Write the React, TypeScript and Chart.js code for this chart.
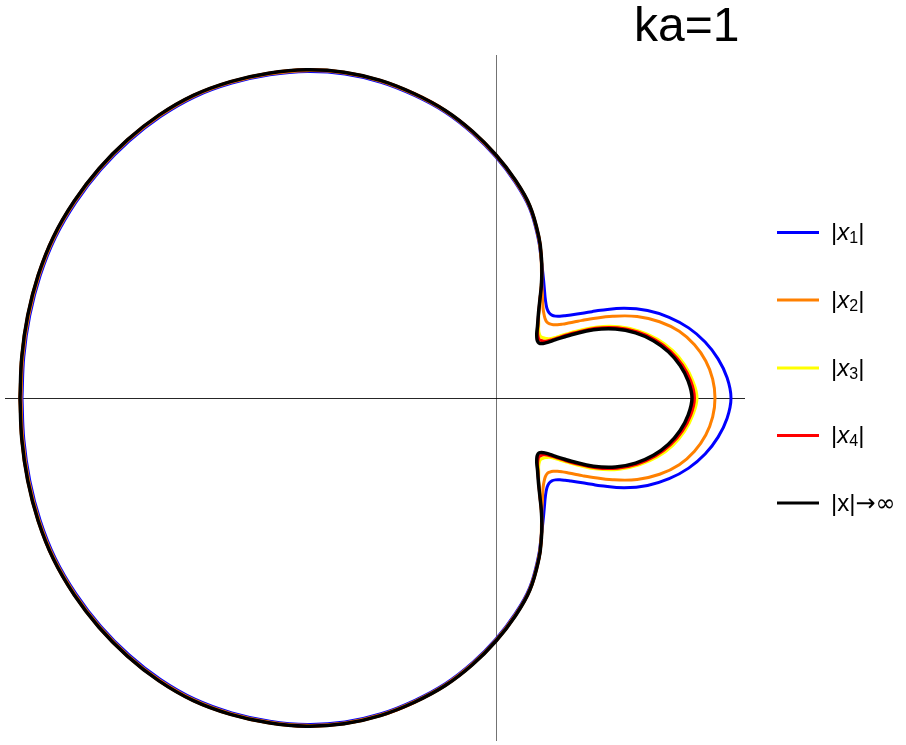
import React, { useEffect, useRef } from "react";
import { Chart, registerables } from "chart.js";

Chart.register(...registerables);

// Polar radiation patterns |x(θ)|, sampled on the upper half-plane
// (θ in degrees, 0 = +x axis). Each pattern is symmetric about the x axis.
const angles = [
  0, 5, 10, 15, 20, 25, 30, 35, 40, 42, 44, 46, 48, 50, 52, 54, 56, 58, 60, 62,
  64, 66, 68, 70, 72, 75, 80, 85, 90, 95, 100, 105, 110, 115, 120, 125, 130,
  135, 140, 145, 150, 155, 160, 165, 170, 175, 180,
];

const rX1 = [
  2.35, 2.32, 2.255, 2.165, 2.05, 1.91, 1.75, 1.565, 1.365, 1.29, 1.225,
  1.168, 1.118, 1.074, 1.038, 1.012, 0.999, 1.003, 1.025, 1.065, 1.12, 1.19,
  1.27, 1.36, 1.46, 1.64, 1.93, 2.17, 2.41, 2.655, 2.9, 3.13, 3.36, 3.575,
  3.77, 3.945, 4.11, 4.26, 4.38, 4.48, 4.565, 4.635, 4.69, 4.72, 4.735, 4.74,
  4.74,
];

const rX2 = [
  2.19, 2.175, 2.13, 2.055, 1.95, 1.805, 1.63, 1.425, 1.228, 1.16, 1.097,
  1.042, 0.994, 0.956, 0.93, 0.916, 0.913, 0.93, 0.962, 1.005, 1.065, 1.14,
  1.225, 1.33, 1.46, 1.65, 1.94, 2.18, 2.42, 2.665, 2.91, 3.14, 3.37, 3.585,
  3.78, 3.955, 4.12, 4.27, 4.39, 4.49, 4.575, 4.645, 4.7, 4.73, 4.745, 4.75,
  4.75,
];

const rX3 = [
  2.01, 1.975, 1.915, 1.83, 1.72, 1.582, 1.425, 1.24, 1.035, 0.962, 0.897,
  0.838, 0.797, 0.778, 0.765, 0.76, 0.775, 0.805, 0.855, 0.91, 0.985, 1.085,
  1.21, 1.34, 1.47, 1.66, 1.95, 2.19, 2.43, 2.675, 2.92, 3.15, 3.38, 3.595,
  3.79, 3.965, 4.13, 4.28, 4.4, 4.5, 4.585, 4.655, 4.71, 4.74, 4.755, 4.76,
  4.76,
];

const rX4 = [
  1.985, 1.955, 1.893, 1.807, 1.697, 1.562, 1.403, 1.215, 1.01, 0.937, 0.87,
  0.812, 0.768, 0.742, 0.73, 0.73, 0.75, 0.785, 0.84, 0.9, 0.98, 1.08, 1.21,
  1.34, 1.47, 1.66, 1.95, 2.19, 2.43, 2.675, 2.92, 3.15, 3.38, 3.595, 3.79,
  3.965, 4.13, 4.28, 4.4, 4.5, 4.585, 4.655, 4.71, 4.74, 4.755, 4.76, 4.76,
];

const rFar = [
  1.96, 1.93, 1.87, 1.785, 1.675, 1.54, 1.38, 1.19, 0.985, 0.912, 0.847,
  0.788, 0.742, 0.71, 0.698, 0.705, 0.73, 0.77, 0.83, 0.895, 0.975, 1.08, 1.21,
  1.34, 1.47, 1.66, 1.95, 2.19, 2.43, 2.675, 2.92, 3.15, 3.38, 3.595, 3.79,
  3.965, 4.13, 4.28, 4.4, 4.5, 4.585, 4.655, 4.71, 4.74, 4.755, 4.76, 4.76,
];

const seriesLabels = ["|x1|", "|x2|", "|x3|", "|x4|", "|x|→∞"];
const seriesColors = ["#0000ff", "#ff8000", "#ffff00", "#ff0000", "#000000"];
const seriesRadii = [rX1, rX2, rX3, rX4, rFar];
const titleText = "ka=1";

// Closed polar curve: sweep θ from 180° down to 0° over the top, then back
// along the mirrored lower half.
function polarCurve(radii: number[]) {
  const pts: { x: number; y: number }[] = [];
  for (let i = angles.length - 1; i >= 0; i--) {
    const t = (angles[i] * Math.PI) / 180;
    pts.push({ x: radii[i] * Math.cos(t), y: radii[i] * Math.sin(t) });
  }
  for (let i = 1; i < angles.length; i++) {
    const t = (-angles[i] * Math.PI) / 180;
    pts.push({ x: radii[i] * Math.cos(t), y: radii[i] * Math.sin(t) });
  }
  return pts;
}

const FONT = "'Liberation Sans', Arial, 'DejaVu Sans', sans-serif";
const SYMBOL_FONT = "'DejaVu Sans', sans-serif";

type Part = { t: string; style: "n" | "i" | "sub" | "sym" };

function labelParts(label: string): Part[] {
  const m = label.match(/^\|x(\d)\|$/);
  if (m) {
    return [
      { t: "|", style: "n" },
      { t: "x", style: "i" },
      { t: m[1], style: "sub" },
      { t: "|", style: "n" },
    ];
  }
  return [
    { t: "|x|", style: "n" },
    { t: label.slice(3), style: "sym" },
  ];
}

const axesPlugin = {
  id: "originAxes",
  beforeDatasetsDraw(chart: any) {
    const { ctx, chartArea, scales } = chart;
    const x0 = Math.round(scales.x.getPixelForValue(0)) + 0.5;
    const y0 = Math.round(scales.y.getPixelForValue(0)) + 0.5;
    ctx.save();
    ctx.lineWidth = 1;
    ctx.strokeStyle = "rgba(0,0,0,0.55)";
    ctx.beginPath();
    ctx.moveTo(x0, chartArea.top);
    ctx.lineTo(x0, chartArea.bottom);
    ctx.stroke();
    ctx.strokeStyle = "rgba(0,0,0,0.85)";
    ctx.beginPath();
    ctx.moveTo(chartArea.left, y0);
    ctx.lineTo(chartArea.right, y0);
    ctx.stroke();
    ctx.restore();
  },
};

const legendPlugin = {
  id: "sideLegend",
  afterDraw(chart: any) {
    const { ctx } = chart;
    ctx.save();
    ctx.fillStyle = "#000";
    ctx.font = `48px ${FONT}`;
    ctx.textBaseline = "alphabetic";
    ctx.textAlign = "left";
    ctx.fillText(titleText, 634, 41);

    const rowY = [232.5, 300, 368, 435.5, 503];
    seriesLabels.forEach((label, i) => {
      const y = rowY[i];
      ctx.strokeStyle = seriesColors[i];
      ctx.lineWidth = 3;
      ctx.lineCap = "butt";
      ctx.beginPath();
      ctx.moveTo(777, y);
      ctx.lineTo(819, y);
      ctx.stroke();

      let x = 831;
      ctx.fillStyle = "#000";
      for (const p of labelParts(label)) {
        let base = y + 7.5;
        if (p.style === "sub") {
          ctx.font = `16px ${FONT}`;
          base = y + 10.5;
        } else if (p.style === "i") {
          ctx.font = `italic 24px ${FONT}`;
        } else if (p.style === "sym") {
          ctx.font = `24px ${SYMBOL_FONT}`;
        } else {
          ctx.font = `24px ${FONT}`;
        }
        ctx.fillText(p.t, x, base);
        x += ctx.measureText(p.t).width;
      }
    });
    ctx.restore();
  },
};

export default function App() {
  const canvasRef = useRef<HTMLCanvasElement | null>(null);

  useEffect(() => {
    const canvas = canvasRef.current;
    if (!canvas) return;

    const widths = [3, 3, 3, 3, 3.5];
    const drawOrder = [4, 3, 2, 1, 0];

    const chart = new Chart(canvas, {
      type: "scatter",
      data: {
        datasets: seriesRadii.map((radii, i) => ({
          label: seriesLabels[i],
          data: polarCurve(radii),
          showLine: true,
          borderColor: seriesColors[i],
          backgroundColor: seriesColors[i],
          borderWidth: widths[i],
          pointRadius: 0,
          tension: 0.4,
          borderJoinStyle: "round" as const,
          borderCapStyle: "round" as const,
          fill: false,
          clip: false as any,
          order: drawOrder[i],
        })),
      },
      options: {
        responsive: false,
        animation: false,
        layout: { padding: { left: 5, right: 161, top: 55, bottom: 4 } },
        plugins: {
          legend: { display: false },
          title: { display: false },
          tooltip: { enabled: false },
        },
        events: [],
        scales: {
          x: { type: "linear", min: -4.91, max: 2.49, display: false },
          y: { type: "linear", min: -3.43, max: 3.43, display: false },
        },
      },
      plugins: [axesPlugin, legendPlugin],
    });

    return () => chart.destroy();
  }, []);

  return (
    <div
      style={{
        position: "fixed",
        left: 0,
        top: 0,
        width: 906,
        height: 745,
        background: "#fff",
      }}
    >
      <canvas ref={canvasRef} width={906} height={745} style={{ display: "block" }} />
    </div>
  );
}
